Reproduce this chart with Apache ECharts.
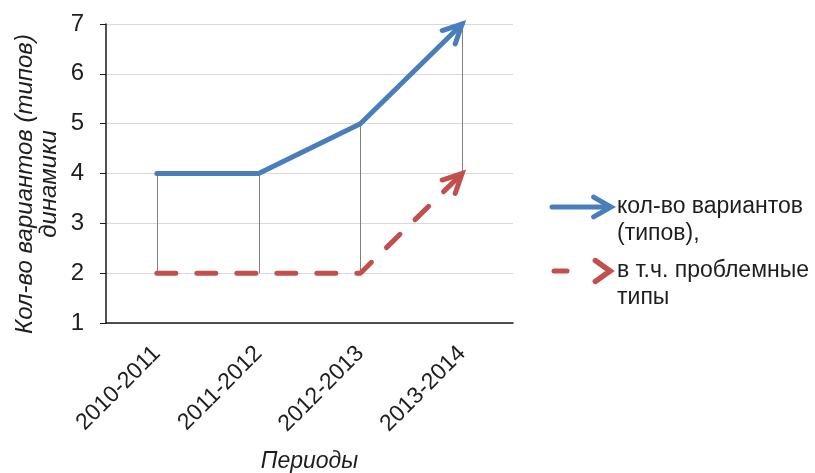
<!DOCTYPE html>
<html>
<head>
<meta charset="utf-8">
<script src="https://cdn.jsdelivr.net/npm/echarts@6/dist/echarts.min.js"></script>
<style>
html,body{margin:0;padding:0;background:#fff;}
#chart{width:815px;height:473px;}
</style>
</head>
<body>
<div id="chart"></div>
<script>
const categories = ['2010-2011', '2011-2012', '2012-2013', '2013-2014'];
const totalTypes = [4, 4, 5, 7];
const problemTypes = [2, 2, 2, 4];
const seriesNames = ['кол-во вариантов\n(типов),', 'в т.ч. проблемные\nтипы'];
const yAxisTitle = 'Кол-во вариантов (типов)\nдинамики';
const xAxisTitle = 'Периоды';
const yMin = 1, yMax = 7, yStep = 1;

const BLUE = '#4A7EBB';
const RED = '#C0504D';
const FONT = 'Liberation Sans';
const TXT = '#1e1e1e';

const chart = echarts.init(document.getElementById('chart'), null, {renderer: 'canvas'});

function chevron(tip, dir, len, ang) {
  const a = Math.atan2(dir[1], dir[0]);
  const back = a + Math.PI;
  const p1 = [tip[0] + len * Math.cos(back + ang), tip[1] + len * Math.sin(back + ang)];
  const p2 = [tip[0] + len * Math.cos(back - ang), tip[1] + len * Math.sin(back - ang)];
  return [p1, tip, p2];
}

function arrowSeries(values, color) {
  const n = values.length;
  return {
    type: 'custom',
    z: 5,
    silent: true,
    data: [[n - 2, values[n - 2], n - 1, values[n - 1]]],
    encode: {x: [0, 2], y: [1, 3]},
    renderItem: function (params, api) {
      const a = api.coord([api.value(0), api.value(1)]);
      const b = api.coord([api.value(2), api.value(3)]);
      const d = [b[0] - a[0], b[1] - a[1]];
      return {
        type: 'polyline',
        shape: {points: chevron(b, d, 21, 0.46)},
        style: {stroke: color, lineWidth: 5, fill: null, lineJoin: 'miter', lineCap: 'round'}
      };
    }
  };
}

const legendX = 552, legendTextX = 617;
const legendY = [207, 271];
function buildGraphics() {
  const g = [];
  g.push({type: 'polyline', shape: {points: [[legendX, legendY[0]], [609, legendY[0]]]},
    style: {stroke: BLUE, lineWidth: 5, fill: null, lineCap: 'round'}});
  g.push({type: 'polyline', shape: {points: chevron([611, legendY[0]], [1, 0], 20, 0.52)},
    style: {stroke: BLUE, lineWidth: 5, fill: null, lineJoin: 'miter', lineCap: 'round'}});
  g.push({type: 'polyline', shape: {points: [[legendX + 2, legendY[1]], [567, legendY[1]]]},
    style: {stroke: RED, lineWidth: 5, fill: null, lineCap: 'round'}});
  g.push({type: 'polyline', shape: {points: chevron([610, legendY[1]], [1, 0], 18, 0.62)},
    style: {stroke: RED, lineWidth: 5.5, fill: null, lineJoin: 'miter', lineCap: 'round'}});
  seriesNames.forEach(function (name, i) {
    g.push({type: 'text', left: legendTextX, top: legendY[i] - 14,
      style: {text: name, font: '23px "' + FONT + '"', fill: TXT, lineHeight: 27}});
  });
  g.push({type: 'text', x: 37, y: 184, rotation: Math.PI / 2,
    style: {text: yAxisTitle, font: 'italic 24px "' + FONT + '"', fill: TXT, lineHeight: 24,
      align: 'center', verticalAlign: 'middle'}});
  return g;
}

const option = {
  backgroundColor: '#ffffff',
  animation: false,
  textStyle: {fontFamily: FONT},
  grid: {left: 106, top: 24, width: 407, height: 299, containLabel: false, outerBoundsMode: 'none'},
  xAxis: {
    type: 'category',
    data: categories,
    boundaryGap: true,
    axisLine: {show: true, lineStyle: {color: '#1a1a1a', width: 1.5}},
    axisTick: {show: false},
    axisLabel: {rotate: 45, margin: 27, fontSize: 23, color: TXT, fontFamily: FONT},
    splitLine: {show: false},
    name: xAxisTitle,
    nameLocation: 'middle',
    nameGap: 127,
    nameTextStyle: {fontSize: 23, fontStyle: 'italic', color: TXT, fontFamily: FONT}
  },
  yAxis: {
    type: 'value',
    min: yMin, max: yMax, interval: yStep,
    axisLine: {show: true, lineStyle: {color: '#1a1a1a', width: 1.5}},
    axisTick: {show: true, length: 6, lineStyle: {color: '#1a1a1a', width: 1}},
    axisLabel: {margin: 22, fontSize: 24, color: TXT, fontFamily: FONT},
    splitLine: {show: true, lineStyle: {color: '#d9d9d9', width: 1}}
  },
  graphic: buildGraphics(),
  series: [
    {
      type: 'custom',
      z: 1,
      silent: true,
      data: categories.map(function (c, i) { return [i, totalTypes[i], problemTypes[i]]; }),
      encode: {x: 0, y: [1, 2]},
      renderItem: function (params, api) {
        const hi = api.coord([api.value(0), api.value(1)]);
        const lo = api.coord([api.value(0), api.value(2)]);
        return {
          type: 'line',
          shape: {x1: Math.round(hi[0]) + 0.5, y1: hi[1], x2: Math.round(lo[0]) + 0.5, y2: lo[1]},
          style: {stroke: '#808080', lineWidth: 1}
        };
      }
    },
    {
      name: seriesNames[0],
      type: 'line',
      z: 4,
      data: totalTypes,
      symbol: 'none',
      lineStyle: {color: BLUE, width: 5, cap: 'round', join: 'round'}
    },
    {
      name: seriesNames[1],
      type: 'line',
      z: 4,
      data: problemTypes,
      symbol: 'none',
      lineStyle: {color: RED, width: 5, type: [19, 21], cap: 'round', join: 'round', dashOffset: 0}
    },
    arrowSeries(totalTypes, BLUE),
    arrowSeries(problemTypes, RED)
  ]
};
chart.setOption(option);
</script>
</body>
</html>
